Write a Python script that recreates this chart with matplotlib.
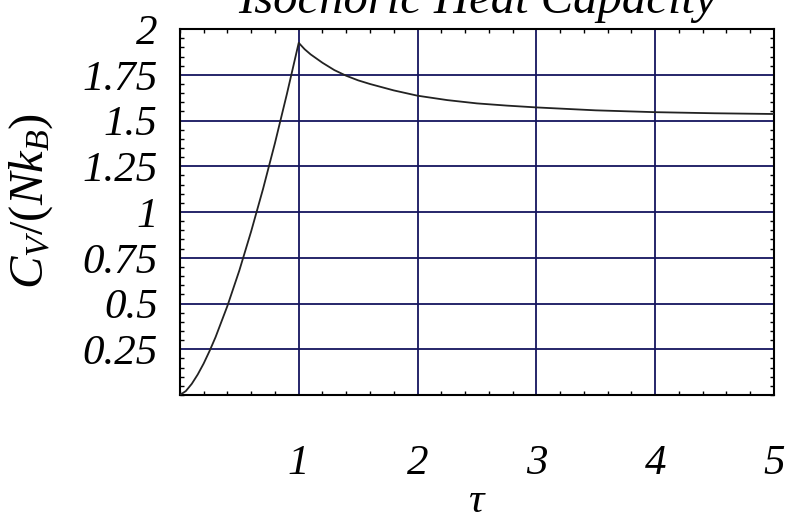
import numpy as np
import matplotlib
matplotlib.use("Agg")
import matplotlib.pyplot as plt
from matplotlib.ticker import MultipleLocator, FixedLocator

plt.rcParams['mathtext.fontset'] = 'custom'
plt.rcParams['mathtext.rm'] = 'Liberation Serif'
plt.rcParams['mathtext.it'] = 'Liberation Serif:italic'

# values
tau = [0.0, 0.05, 0.1, 0.15, 0.2, 0.25, 0.3, 0.4, 0.5, 0.6, 0.7, 0.8, 0.9, 1.0,
       1.05, 1.1, 1.2, 1.3, 1.4, 1.5, 1.6, 1.8, 2.0, 2.25, 2.5,
       2.75, 3.0, 3.5, 4.0, 4.5, 5.0]
cv = [0.0, 0.0215, 0.061, 0.112, 0.172, 0.241, 0.316, 0.487, 0.68, 0.895, 1.127, 1.377, 1.644, 1.925,
      1.89, 1.862, 1.816, 1.776, 1.745, 1.72, 1.70, 1.665, 1.636, 1.612, 1.594,
      1.582, 1.572, 1.556, 1.546, 1.540, 1.536]

x_ticks = [1, 2, 3, 4, 5]
y_ticks = [0.25, 0.5, 0.75, 1, 1.25, 1.5, 1.75, 2]
y_labels = ['0.25', '0.5', '0.75', '1', '1.25', '1.5', '1.75', '2']

fig = plt.figure(figsize=(7.89, 5.20), dpi=100)
ax = fig.add_axes([0.228, 0.2404, 0.753, 0.7036])

grid_col = '#15155e'
for x in x_ticks:
    ax.axvline(x, color=grid_col, lw=1.3, zorder=1)
for y in y_ticks:
    ax.axhline(y, color=grid_col, lw=1.3, zorder=1)

ax.plot(tau, cv, color='#222222', lw=1.3, zorder=3)

ax.set_xlim(0, 5)
ax.set_ylim(0, 2)
ax.xaxis.set_major_locator(FixedLocator(x_ticks))
ax.yaxis.set_major_locator(FixedLocator(y_ticks))
ax.xaxis.set_minor_locator(MultipleLocator(0.2))
ax.yaxis.set_minor_locator(MultipleLocator(0.05))
ax.set_yticklabels(y_labels)

ax.tick_params(which='both', direction='in', top=True, right=True, color='black')
ax.tick_params(which='major', length=0, width=1)
ax.tick_params(which='minor', length=3, width=1)
ax.tick_params(axis='x', which='major', pad=36)
ax.tick_params(axis='y', which='major', pad=16)
for lab in ax.get_xticklabels() + ax.get_yticklabels():
    lab.set_fontfamily('Liberation Serif')
    lab.set_fontstyle('italic')
    lab.set_fontsize(31)

for sp in ax.spines.values():
    sp.set_linewidth(1.5)

ax.set_xlabel(r'$\tau$', fontsize=31, labelpad=-3)
ax.set_ylabel(r'$C_V/(Nk_B)$', fontsize=35)
ax.yaxis.set_label_coords(-0.21, 0.53)
fig.text(0.605, 1 - 13 / 520, 'Isochoric Heat Capacity', fontsize=35,
         fontfamily='Liberation Serif', fontstyle='italic',
         ha='center', va='baseline')

fig.savefig('out.png', dpi=100)
